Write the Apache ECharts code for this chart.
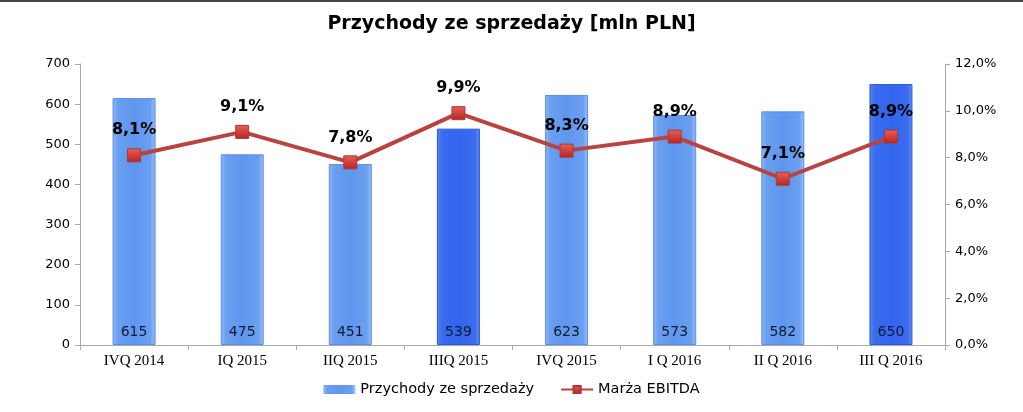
<!DOCTYPE html>
<html><head><meta charset="utf-8">
<script src="https://cdn.jsdelivr.net/npm/echarts@6/dist/echarts.min.js"></script>
<style>html,body{margin:0;padding:0;background:#fff}#c{width:1023px;height:412px}</style>
</head><body><div id="c"></div>
<script>
const categories = ['IVQ 2014','IQ 2015','IIQ 2015','IIIQ 2015','IVQ 2015','I Q 2016','II Q 2016','III Q 2016'];
const revenue = [615, 475, 451, 539, 623, 573, 582, 650];
const ebitdaMargin = [8.1, 9.1, 7.8, 9.9, 8.3, 8.9, 7.1, 8.9];
const highlighted = [false, false, false, true, false, false, false, true];
const leftTicks = [0, 100, 200, 300, 400, 500, 600, 700];
const rightTicks = [0, 2, 4, 6, 8, 10, 12];

const lightGrad = new echarts.graphic.LinearGradient(0,0,1,0,[
  {offset:0,color:'#8fb8f6'},{offset:0.12,color:'#6a9ff0'},{offset:0.5,color:'#5f96ee'},{offset:0.88,color:'#6a9ff0'},{offset:1,color:'#9cc1f8'}]);
const darkGrad = new echarts.graphic.LinearGradient(0,0,1,0,[
  {offset:0,color:'#5a86f2'},{offset:0.12,color:'#3a6cf0'},{offset:0.5,color:'#3265ee'},{offset:0.88,color:'#3a6cf0'},{offset:1,color:'#628ef4'}]);
const markerGrad = new echarts.graphic.LinearGradient(0,0,0,1,[
  {offset:0,color:'#e8605a'},{offset:1,color:'#b8231f'}]);

const chart = echarts.init(document.getElementById('c'), null, {renderer:'canvas'});
const fmt = v => v.toFixed(1).replace('.', ',');
chart.setOption({
  animation:false,
  backgroundColor:'#fff',
  graphic:[{type:'rect',left:0,top:0,shape:{width:1023,height:2},style:{fill:'#444'}}],
  title:{text:'Przychody ze sprzedaży [mln PLN]',left:'center',top:10,
    textStyle:{fontFamily:'DejaVu Sans',fontWeight:'bold',fontSize:19,color:'#000'}},
  legend:{bottom:10,left:'center',itemGap:26,itemWidth:32,itemHeight:9,
    textStyle:{fontFamily:'DejaVu Sans',fontSize:14.5,color:'#000'},
    data:[{name:'Przychody ze sprzedaży',icon:'rect',itemStyle:{color:lightGrad}},
          {name:'Marża EBITDA'}]},
  grid:{left:80,right:78,top:64,bottom:67},
  xAxis:{type:'category',data:categories,
    axisLine:{lineStyle:{color:'#aaa'}},
    axisTick:{show:true,lineStyle:{color:'#aaa'},length:5},
    axisLabel:{fontFamily:'Liberation Serif',fontSize:15,color:'#000',margin:9}},
  yAxis:[
    {type:'value',min:0,max:700,interval:100,
     axisLine:{show:true,lineStyle:{color:'#aaa'}},
     axisTick:{show:true,lineStyle:{color:'#aaa'},length:5},
     splitLine:{show:false},
     axisLabel:{fontFamily:'DejaVu Sans',fontSize:13,color:'#000',margin:10,
       formatter:v=>leftTicks.includes(v)?String(v):''}},
    {type:'value',min:0,max:12,interval:2,position:'right',
     axisLine:{show:true,lineStyle:{color:'#aaa'}},
     axisTick:{show:true,lineStyle:{color:'#aaa'},length:5},
     splitLine:{show:false},
     axisLabel:{fontFamily:'DejaVu Sans',fontSize:13,color:'#000',margin:10,
       formatter:v=>rightTicks.includes(v)?fmt(v)+'%':''}}
  ],
  series:[
    {name:'Przychody ze sprzedaży',type:'bar',barWidth:43,
     data:revenue.map((v,i)=>({value:v,itemStyle:{color:highlighted[i]?darkGrad:lightGrad,
        borderColor:highlighted[i]?'#2d5ad8':'#5a8ee0',borderWidth:1}})),
     itemStyle:{color:lightGrad},
     label:{show:true,position:'insideBottom',distance:6,fontFamily:'DejaVu Sans',fontSize:14,color:'#0f1a33'}},
    {name:'Marża EBITDA',type:'line',yAxisIndex:1,data:ebitdaMargin,
     symbol:'rect',symbolSize:13,
     lineStyle:{color:'#b9443f',width:4},
     itemStyle:{color:markerGrad,borderColor:'#a83a36',borderWidth:1},
     label:{show:true,position:'top',distance:10,fontFamily:'DejaVu Sans',fontWeight:'bold',fontSize:16,color:'#000',
       formatter:p=>fmt(p.value)+'%'}}
  ]
});
</script></body></html>
